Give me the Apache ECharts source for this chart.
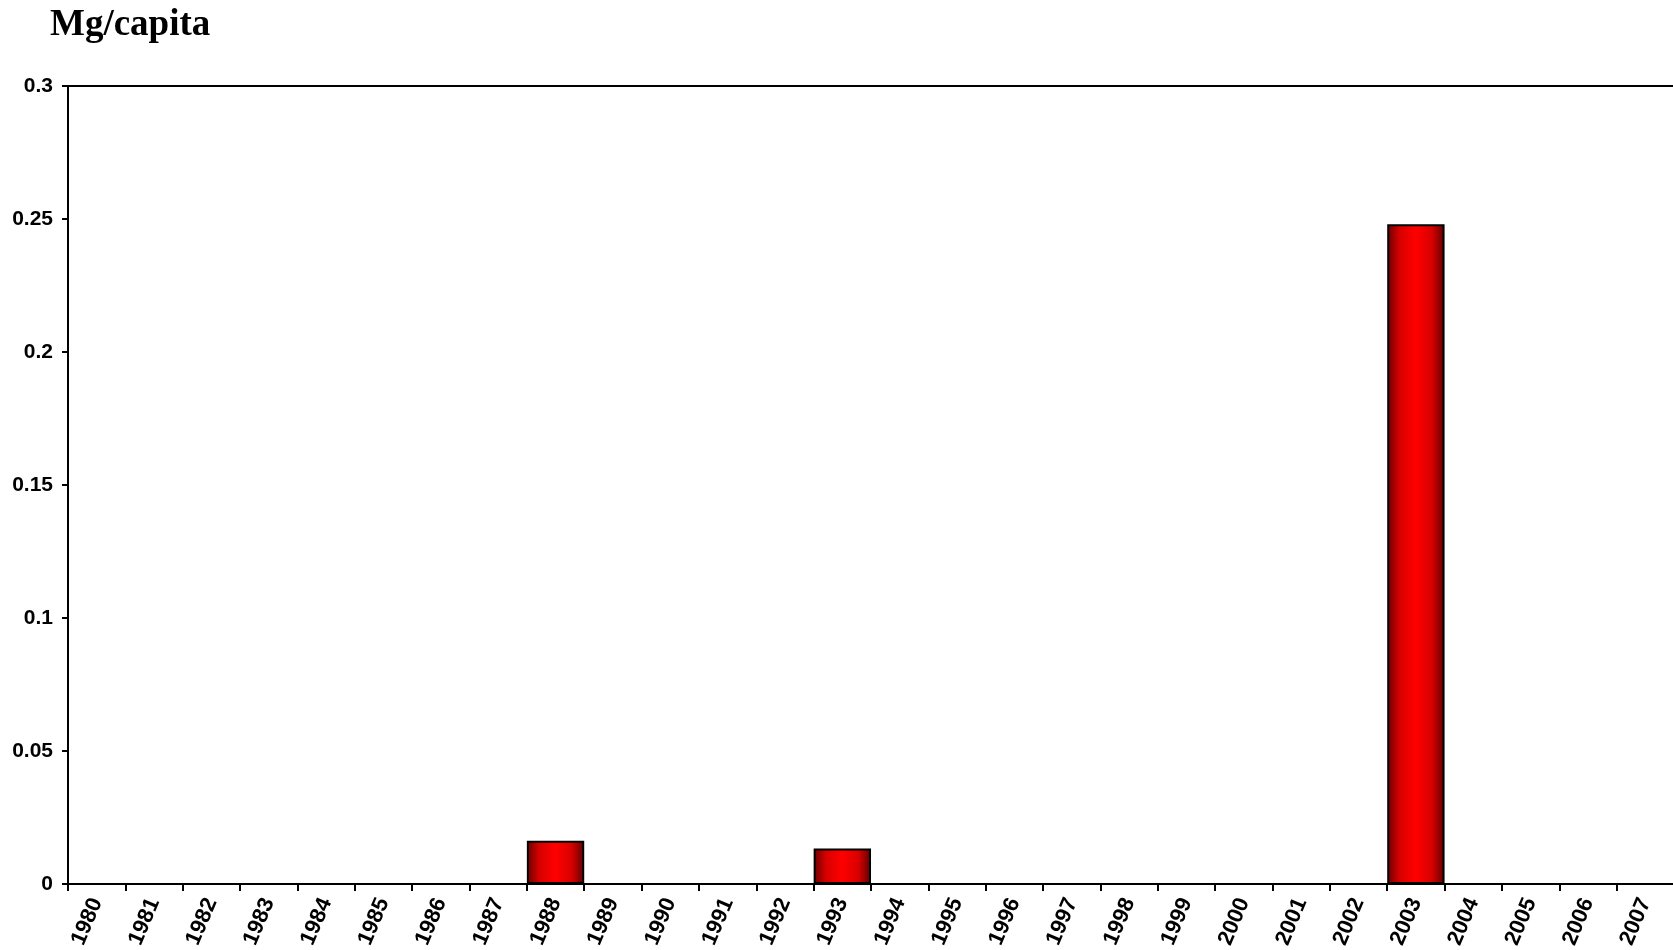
<!DOCTYPE html>
<html>
<head>
<meta charset="utf-8">
<script src="https://cdn.jsdelivr.net/npm/echarts@6/dist/echarts.min.js"></script>
<style>
  html, body { margin: 0; padding: 0; background: #fff; }
  #chart { width: 1673px; height: 950px; }
</style>
</head>
<body>
<div id="chart"></div>
<script>
// Years on the category axis
const years = ['1980', '1981', '1982', '1983', '1984', '1985', '1986', '1987', '1988', '1989',
  '1990', '1991', '1992', '1993', '1994', '1995', '1996', '1997', '1998', '1999',
  '2000', '2001', '2002', '2003', '2004', '2005', '2006', '2007']

// Mg per capita
const values = [0, 0, 0, 0, 0, 0, 0, 0, 0.0163, 0,
  0, 0, 0, 0.0133, 0, 0, 0, 0, 0, 0,
  0, 0, 0, 0.248, 0, 0, 0, 0]

const chart = echarts.init(document.getElementById('chart'))

const labelFont = {
  color: '#000',
  fontFamily: 'Liberation Sans, Arial, sans-serif',
  fontWeight: 'bold',
  fontSize: 21
}

const option = {
  animation: false,
  title: {
    text: 'Mg/capita',
    left: 45,
    top: 2,
    textStyle: {
      fontFamily: 'Liberation Serif, Times New Roman, serif',
      fontWeight: 'bold',
      fontSize: 37,
      color: '#000'
    }
  },
  grid: {
    left: 68,
    top: 86,
    width: 1606,
    height: 798,
    outerBoundsMode: 'none',
    show: true,
    borderColor: '#000',
    borderWidth: 2,
    backgroundColor: 'transparent'
  },
  xAxis: {
    type: 'category',
    data: years,
    boundaryGap: true,
    axisLine: { lineStyle: { color: '#000', width: 2 } },
    axisTick: { show: true, length: 7, lineStyle: { color: '#000', width: 2 } },
    axisLabel: {
      ...labelFont,
      fontSize: 22,
      rotate: 67,
      margin: 15,
      interval: 0
    },
    splitLine: { show: false }
  },
  yAxis: {
    type: 'value',
    min: 0,
    max: 0.3,
    interval: 0.05,
    axisLine: { show: true, lineStyle: { color: '#000', width: 2 } },
    axisTick: { show: true, length: 6, lineStyle: { color: '#000', width: 2 } },
    axisLabel: { ...labelFont, margin: 15 },
    splitLine: { show: false }
  },
  series: [
    {
      type: 'bar',
      data: values,
      barWidth: '100%',
      itemStyle: {
        borderColor: '#000',
        borderWidth: 2,
        color: new echarts.graphic.LinearGradient(0, 0, 1, 0, [
          { offset: 0, color: '#6a0000' },
          { offset: 0.22, color: '#d80000' },
          { offset: 0.5, color: '#ff0000' },
          { offset: 0.78, color: '#d80000' },
          { offset: 1, color: '#5e0000' }
        ])
      }
    }
  ]
}

chart.setOption(option)
</script>
</body>
</html>
